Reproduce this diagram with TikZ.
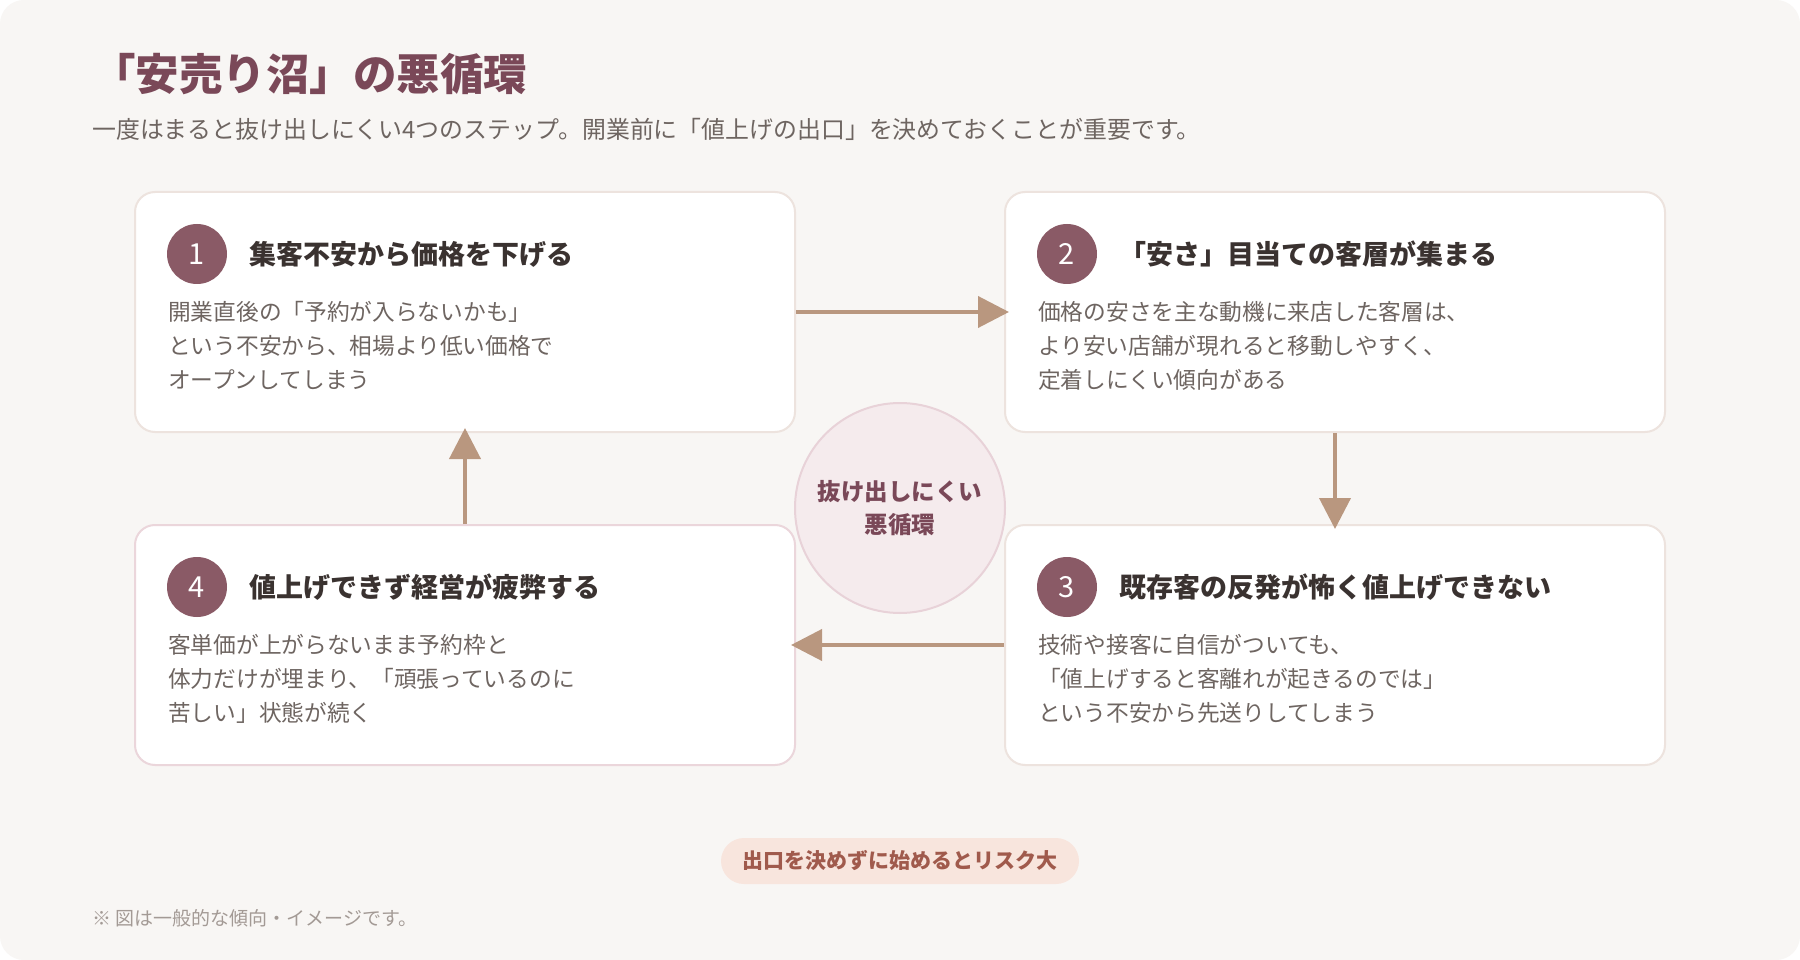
\documentclass[tikz,border=0pt]{standalone}
\usepackage{fontspec}
\setmainfont{Noto Sans CJK JP}
\usepackage{xcolor}
\usetikzlibrary{calc,arrows.meta}
\definecolor{pagebg}{HTML}{F8F6F4}
\definecolor{boxline}{HTML}{EDE3DE}
\definecolor{boxlinepink}{HTML}{EBD6DB}
\definecolor{numfill}{HTML}{8A5A66}
\definecolor{titletxt}{HTML}{7A4858}
\definecolor{headtxt}{HTML}{3A3230}
\definecolor{bodytxt}{HTML}{6E6561}
\definecolor{arrowcol}{HTML}{B9977F}
\definecolor{loopfill}{HTML}{F5EBED}
\definecolor{loopline}{HTML}{E8D2D8}
\definecolor{riskfill}{HTML}{F8E5DD}
\definecolor{risktxt}{HTML}{A05A4C}
\definecolor{notetxt}{HTML}{A39A95}

\begin{document}
\begin{tikzpicture}[x=1pt,y=-1pt,
  stepbox/.style={draw=boxline,line width=2pt,fill=white,rounded corners=20pt,
    minimum width=660pt,minimum height=240pt,inner sep=0pt},
  stepnum/.style={circle,fill=numfill,text=white,minimum size=60pt,inner sep=0pt,
    font=\fontsize{29}{29}\selectfont},
  stephead/.style={anchor=west,inner sep=0pt,text=headtxt,
    font=\bfseries\fontsize{27}{30}\selectfont},
  stepbody/.style={anchor=north west,inner sep=0pt,align=left,text=bodytxt,
    font=\fontsize{22.7}{34.2}\selectfont},
  cyclearrow/.style={draw=arrowcol,line width=4pt,
    -{Triangle[length=31pt,width=31pt]},shorten >=-5pt},
  loopcircle/.style={circle,draw=loopline,line width=2pt,fill=loopfill,
    minimum size=210pt,inner sep=0pt,align=center,text=titletxt,
    font=\bfseries\fontsize{23.5}{33}\selectfont},
  riskpill/.style={fill=riskfill,rounded corners=23pt,minimum width=358pt,
    minimum height=46pt,inner sep=0pt,text=risktxt,
    font=\bfseries\fontsize{21}{24}\selectfont}]
  \useasboundingbox (0,0) rectangle (1800,960);
  \fill[white] (0,0) rectangle (1800,960);
  \fill[pagebg,rounded corners=24pt] (0,0) rectangle (1800,960);

  \node[anchor=west,inner sep=0pt,text=titletxt,font=\bfseries\fontsize{43.5}{48}\selectfont]
    (title) at (92,74) {「安売り沼」の悪循環};
  \node[anchor=west,inner sep=0pt,text=bodytxt,font=\fontsize{23.9}{28}\selectfont]
    (subtitle) at (92,129) {一度はまると抜け出しにくい4つのステップ。開業前に「値上げの出口」を決めておくことが重要です。};

  \node[stepbox] (box1) at (465,312) {};
  \node[stepbox] (box2) at (1335,312) {};
  \node[stepbox] (box3) at (1335,645) {};
  \node[stepbox,draw=boxlinepink] (box4) at (465,645) {};

  \node[stepnum] (num1) at ($(box1.north west)+(63,63)$) {1};
  \node[stephead] (head1) at ($(box1.north west)+(115,63)$) {集客不安から価格を下げる};
  \node[stepbody] (body1) at ($(box1.north west)+(34,110)$)
    {開業直後の「予約が入らないかも」\\という不安から、相場より低い価格で\\オープンしてしまう};

  \node[stepnum] (num2) at ($(box2.north west)+(63,63)$) {2};
  \node[stephead] (head2) at ($(box2.north west)+(115,63)$) {「安さ」目当ての客層が集まる};
  \node[stepbody] (body2) at ($(box2.north west)+(34,110)$)
    {価格の安さを主な動機に来店した客層は、\\より安い店舗が現れると移動しやすく、\\定着しにくい傾向がある};

  \node[stepnum] (num3) at ($(box3.north west)+(63,63)$) {3};
  \node[stephead] (head3) at ($(box3.north west)+(115,63)$) {既存客の反発が怖く値上げできない};
  \node[stepbody] (body3) at ($(box3.north west)+(34,110)$)
    {技術や接客に自信がついても、\\「値上げすると客離れが起きるのでは」\\という不安から先送りしてしまう};

  \node[stepnum] (num4) at ($(box4.north west)+(63,63)$) {4};
  \node[stephead] (head4) at ($(box4.north west)+(115,63)$) {値上げできず経営が疲弊する};
  \node[stepbody] (body4) at ($(box4.north west)+(34,110)$)
    {客単価が上がらないまま予約枠と\\体力だけが埋まり、「頑張っているのに\\苦しい」状態が続く};

  \draw[cyclearrow] (box1) -- (box2);
  \draw[cyclearrow] (box2) -- (box3);
  \draw[cyclearrow] (box3) -- (box4);
  \draw[cyclearrow] (box4) -- (box1);

  \node[loopcircle] (loop) at (900,508) {抜け出しにくい\\悪循環};

  \node[riskpill] (risk) at (900,861) {出口を決めずに始めるとリスク大};
  \node[anchor=west,inner sep=0pt,text=notetxt,font=\fontsize{19}{22}\selectfont]
    (note) at (92,918) {※ 図は一般的な傾向・イメージです。};
\end{tikzpicture}
\end{document}
